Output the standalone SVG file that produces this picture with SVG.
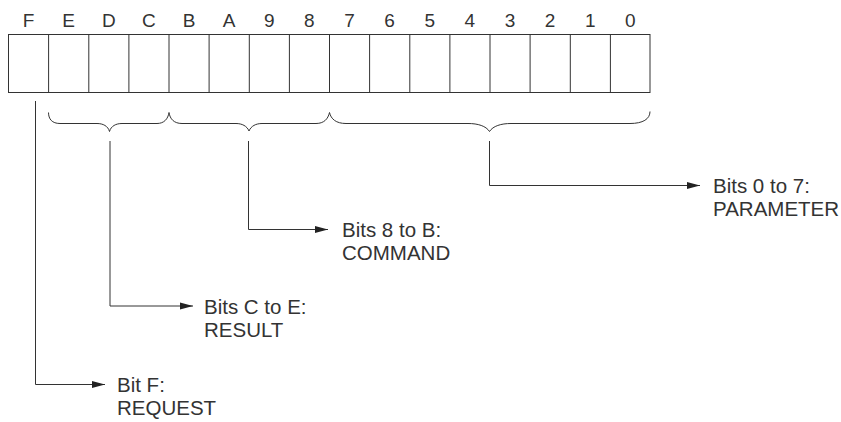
<svg xmlns="http://www.w3.org/2000/svg" width="841" height="422" viewBox="0 0 841 422">
<defs>
<style>
.bit{font-family:"Liberation Sans",Arial,sans-serif;font-size:19px;fill:#333;text-anchor:middle}
.lbl{font-family:"Liberation Sans",Arial,sans-serif;font-size:20.5px;fill:#333}
.cell{fill:#fff;stroke:#333;stroke-width:1}
.ln{fill:none;stroke:#333;stroke-width:1}
</style>
<marker id="arr" markerUnits="userSpaceOnUse" markerWidth="14" markerHeight="8" refX="13" refY="4" orient="auto">
<path d="M0,0.5 L13,4 L0,7.5 Z" fill="#222"/>
</marker>
</defs>
<rect width="841" height="422" fill="#fff"/>
<g id="register">
<rect class="cell" x="8.5" y="34.5" width="641.5" height="58"/>
<g class="ln">
<line x1="48.6" y1="34.5" x2="48.6" y2="92.5"/>
<line x1="88.8" y1="34.5" x2="88.8" y2="92.5"/>
<line x1="128.9" y1="34.5" x2="128.9" y2="92.5"/>
<line x1="169" y1="34.5" x2="169" y2="92.5"/>
<line x1="209.1" y1="34.5" x2="209.1" y2="92.5"/>
<line x1="249.3" y1="34.5" x2="249.3" y2="92.5"/>
<line x1="289.4" y1="34.5" x2="289.4" y2="92.5"/>
<line x1="329.5" y1="34.5" x2="329.5" y2="92.5"/>
<line x1="369.6" y1="34.5" x2="369.6" y2="92.5"/>
<line x1="409.8" y1="34.5" x2="409.8" y2="92.5"/>
<line x1="449.9" y1="34.5" x2="449.9" y2="92.5"/>
<line x1="490" y1="34.5" x2="490" y2="92.5"/>
<line x1="530.1" y1="34.5" x2="530.1" y2="92.5"/>
<line x1="570.3" y1="34.5" x2="570.3" y2="92.5"/>
<line x1="610.4" y1="34.5" x2="610.4" y2="92.5"/>
</g>
<text class="bit" x="28.5" y="26.5">F</text>
<text class="bit" x="68.6" y="26.5">E</text>
<text class="bit" x="108.8" y="26.5">D</text>
<text class="bit" x="148.9" y="26.5">C</text>
<text class="bit" x="189" y="26.5">B</text>
<text class="bit" x="229.1" y="26.5">A</text>
<text class="bit" x="269.3" y="26.5">9</text>
<text class="bit" x="309.4" y="26.5">8</text>
<text class="bit" x="349.5" y="26.5">7</text>
<text class="bit" x="389.6" y="26.5">6</text>
<text class="bit" x="429.8" y="26.5">5</text>
<text class="bit" x="469.9" y="26.5">4</text>
<text class="bit" x="510" y="26.5">3</text>
<text class="bit" x="550.1" y="26.5">2</text>
<text class="bit" x="590.3" y="26.5">1</text>
<text class="bit" x="630.4" y="26.5">0</text>
</g>
<g id="braces" class="ln">
<path d="M48.5,112.5 C48.5,119 52,123.5 60,123.5 L97,123.5 C103,123.5 108,126 109.5,131.5 C111,126 116,123.5 122,123.5 L157,123.5 C164,123.5 168,119 169,112.5"/>
<path d="M169,112.5 C170,119 174,123.5 182,123.5 L236,123.5 C242,123.5 247,126 249,131 C251,126 256,123.5 262,123.5 L316,123.5 C324,123.5 328,119 329.5,112.5"/>
<path d="M329.5,112.5 C331,119 336,123.5 346,123.5 L468,123.5 C478,123.5 486,126 489.5,131.5 C493,126 501,123.5 511,123.5 L630,123.5 C643,123.5 650,119 650,111.5"/>
</g>
<g id="connectors" class="ln">
<polyline points="35.5,101 35.5,384.5 105,384.5" marker-end="url(#arr)"/>
<polyline points="110,141 110,306 193,306" marker-end="url(#arr)"/>
<polyline points="248.5,141 248.5,229.5 328,229.5" marker-end="url(#arr)"/>
<polyline points="489.5,141 489.5,185.5 700,185.5" marker-end="url(#arr)"/>
</g>
<g id="label-request">
<text class="lbl" x="117" y="392">Bit F:</text>
<text class="lbl" x="117" y="415">REQUEST</text>
</g>
<g id="label-result">
<text class="lbl" x="204" y="313.5">Bits C to E:</text>
<text class="lbl" x="204" y="336.5">RESULT</text>
</g>
<g id="label-command">
<text class="lbl" x="342" y="237">Bits 8 to B:</text>
<text class="lbl" x="342" y="260">COMMAND</text>
</g>
<g id="label-parameter">
<text class="lbl" x="713" y="193">Bits 0 to 7:</text>
<text class="lbl" x="713" y="216">PARAMETER</text>
</g>
</svg>
